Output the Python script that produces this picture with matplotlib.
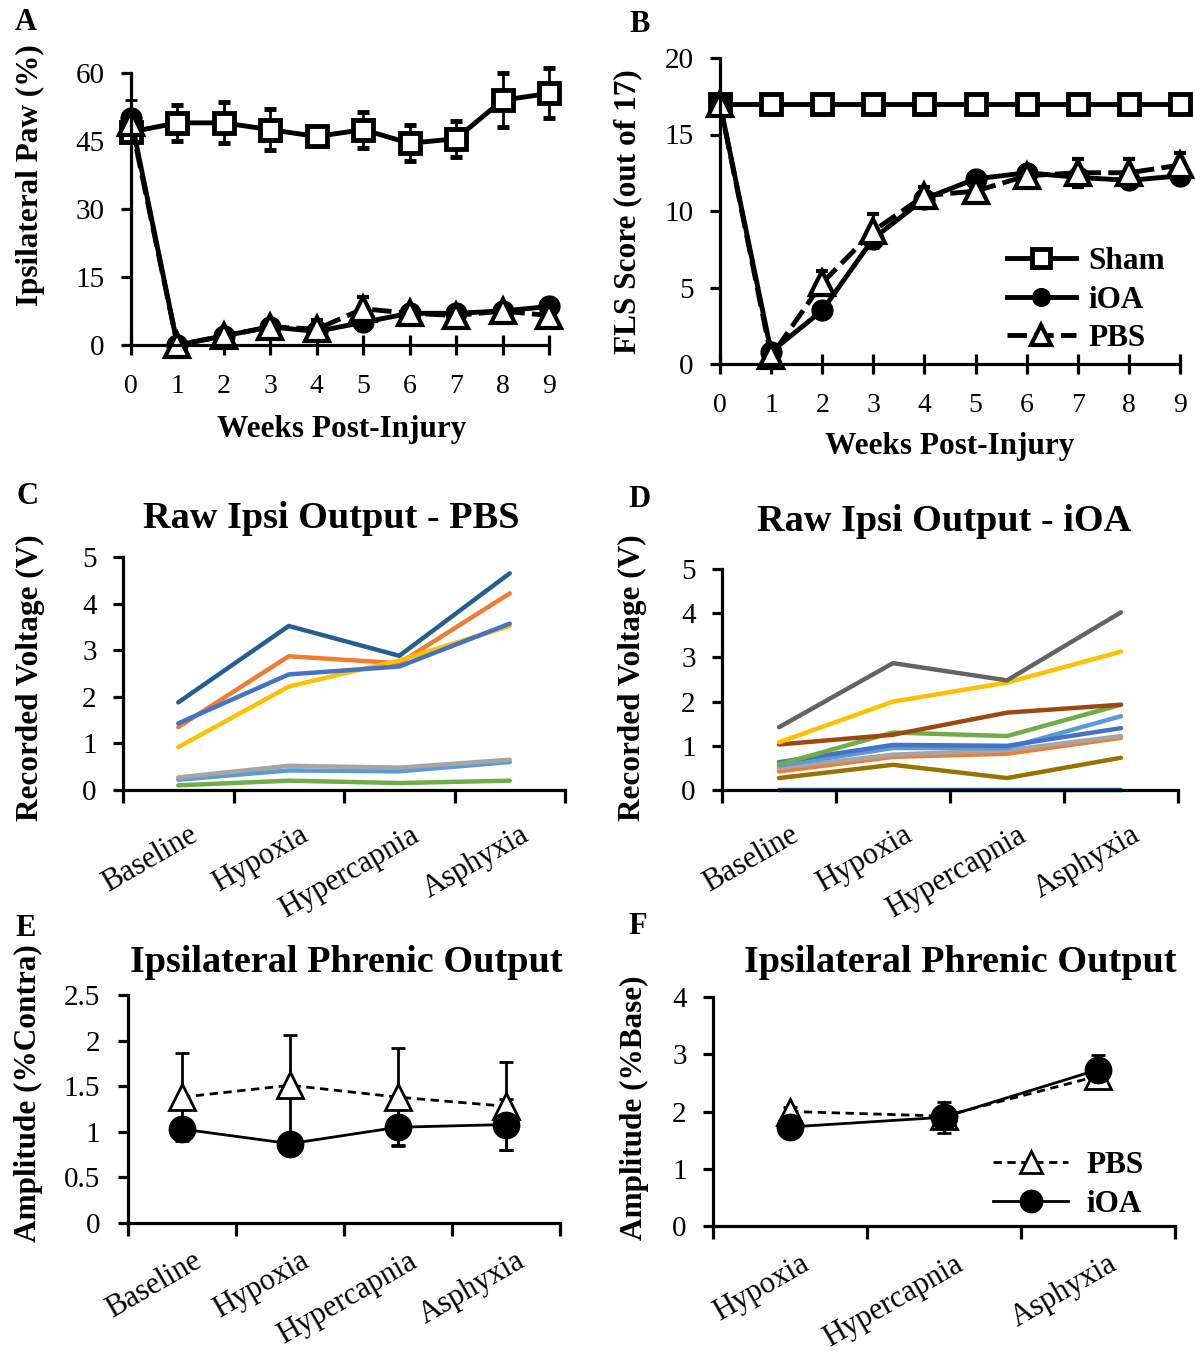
import numpy as np
import matplotlib
matplotlib.use("Agg")
import matplotlib.pyplot as plt
import matplotlib.transforms as mtransforms

plt.rcParams['font.family'] = ['Liberation Serif', 'DejaVu Serif']

# ---------- data ----------
weeks = np.arange(10)

# panel A: ipsilateral paw (%)
paw_sham = [47, 49, 49, 47.5, 46, 47.5, 44.5, 45.5, 54, 55.5]
paw_sham_err = [0, 4, 4.5, 4.5, 1, 4, 4, 4, 6, 5.5]
paw_ioa = [50, 0, 2, 4, 3, 5, 7, 7, 7.5, 8.5]
paw_ioa_err = [4, 0.5, 1, 1, 1, 1, 1, 1, 1, 1]
paw_pbs = [49, 0, 2, 4, 3.5, 8, 7, 6.5, 7.5, 6.5]
paw_pbs_err = [1, 0.5, 1, 1.5, 2, 2.5, 1, 1, 1, 1]

# panel B: FLS score
fls_sham = [17, 17, 17, 17, 17, 17, 17, 17, 17, 17]
fls_ioa = [17, 0.8, 3.5, 8.2, 10.8, 12.1, 12.5, 12.2, 12.0, 12.3]
fls_ioa_err = [0, 0.3, 0.5, 0.6, 0.5, 0.5, 0.5, 0.4, 0.5, 0.5]
fls_pbs = [17, 0.5, 5.3, 8.7, 11.0, 11.3, 12.3, 12.5, 12.5, 13.0]
fls_pbs_err = [0, 0.3, 0.8, 1.1, 0.6, 0.7, 0.4, 0.9, 0.9, 0.8]

conditions = ['Baseline', 'Hypoxia', 'Hypercapnia', 'Asphyxia']

# panel C: raw ipsi output, PBS animals
raw_pbs = [
    ('#255e91', [1.88, 3.52, 2.88, 4.65]),
    ('#ed7d31', [1.35, 2.87, 2.72, 4.22]),
    ('#ffc000', [0.92, 2.22, 2.78, 3.52]),
    ('#4472c4', [1.43, 2.48, 2.65, 3.57]),
    ('#70ad47', [0.10, 0.20, 0.15, 0.20]),
    ('#5b9bd5', [0.22, 0.42, 0.40, 0.60]),
    ('#a5a5a5', [0.27, 0.52, 0.48, 0.65]),
]

# panel D: raw ipsi output, iOA animals
raw_ioa = [
    ('#255e91', [0.0, 0.0, 0.0, 0.0]),
    ('#997300', [0.27, 0.57, 0.27, 0.73]),
    ('#ed7d31', [0.42, 0.75, 0.82, 1.18]),
    ('#a5a5a5', [0.50, 0.80, 0.90, 1.22]),
    ('#5b9bd5', [0.55, 0.95, 0.95, 1.67]),
    ('#4472c4', [0.63, 1.02, 1.00, 1.40]),
    ('#70ad47', [0.58, 1.30, 1.22, 1.93]),
    ('#9e480e', [1.03, 1.25, 1.75, 1.93]),
    ('#ffc000', [1.08, 2.00, 2.43, 3.13]),
    ('#636363', [1.42, 2.87, 2.48, 4.02]),
]

# panel E: amplitude (%Contra)
amp_pbs = [1.38, 1.51, 1.38, 1.28]
amp_pbs_err = [0.48, 0.55, 0.54, 0.48]
amp_ioa = [1.03, 0.87, 1.05, 1.08]
amp_ioa_err = [0.05, 0.05, 0.2, 0.28]

# panel F: amplitude (%Base)
stim = ['Hypoxia', 'Hypercapnia', 'Asphyxia']
base_pbs = [2.0, 1.92, 2.62]
base_pbs_err = [0.08, 0.1, 0.15]
base_ioa = [1.73, 1.90, 2.73]
base_ioa_err = [0.05, 0.27, 0.25]

# ---------- figure ----------
W, H = 1195, 1353
fig = plt.figure(figsize=(W / 100, H / 100), dpi=100)

TICK = 21
LAB = 22.5
TITLE = 27.5
CAT = 22


def px_axes(left, right, top, bottom):
    return fig.add_axes([left / W, 1 - bottom / H, (right - left) / W, (bottom - top) / H])


def style(ax, lw=2.3, ypad=12):
    for s in ['top', 'right']:
        ax.spines[s].set_visible(False)
    for s in ['left', 'bottom']:
        ax.spines[s].set_linewidth(lw)
        ax.spines[s].set_color('black')
    ax.tick_params(axis='y', direction='out', length=7, width=lw, labelsize=TICK, pad=ypad)


def category_axis(ax, labels, pad=22):
    n = len(labels)
    ax.set_xlim(-0.5, n - 0.5)
    ax.set_xticks(np.arange(n + 1) - 0.5)
    ax.set_xticklabels([])
    ax.tick_params(axis='x', which='major', direction='out', length=9, width=2.3)
    ax.set_xticks(np.arange(n), minor=True)
    ax.set_xticklabels(labels, minor=True, rotation=30, ha='right', va='top',
                       rotation_mode='anchor', fontsize=CAT)
    ax.tick_params(axis='x', which='minor', length=0, pad=pad)
    shift = mtransforms.ScaledTranslation(0.10, 0, fig.dpi_scale_trans)
    for t in ax.get_xticklabels(minor=True):
        t.set_transform(t.get_transform() + shift)


def ylabel(text, xpx, ypx):
    fig.text(xpx / W, 1 - ypx / H, text, rotation=90, ha='center', va='center',
             fontsize=LAB, fontweight='bold')


def title(text, xpx, ypx):
    fig.text(xpx / W, 1 - ypx / H, text, ha='center', va='center',
             fontsize=TITLE, fontweight='bold')


big = dict(lw=3.5, capsize=4.5, elinewidth=2, capthick=2, clip_on=False, color='black')

# ---- A ----
axA = px_axes(131, 549, 73, 345)
style(axA)
axA.errorbar(weeks, paw_sham, yerr=paw_sham_err, marker='s', ms=15, mfc='white',
             mec='black', mew=3.5, **big)
axA.errorbar(weeks, paw_ioa, yerr=paw_ioa_err, marker='o', ms=15, mfc='black', mec='black', **big)
axA.errorbar(weeks, paw_pbs, yerr=paw_pbs_err, marker='^', ms=17, mfc='white', mec='black',
             mew=3, ls=(0, (4, 1.5)), **big)
axA.set_xlim(0, 9)
axA.set_ylim(0, 60)
axA.set_yticks([0, 15, 30, 45, 60])
axA.set_xticks(weeks)
axA.tick_params(axis='x', direction='inout', length=14, width=2.3, labelsize=20, pad=14)
fig.text(342 / W, 1 - 429 / H, 'Weeks Post-Injury', ha='center', va='center',
         fontsize=LAB, fontweight='bold')
ylabel('Ipsilateral Paw (%)', 30, 175)

# ---- B ----
axB = px_axes(720, 1180, 58, 364)
style(axB)
hs = axB.errorbar(weeks, fls_sham, marker='s', ms=15, mfc='white', mec='black', mew=3.5, **big)
hi = axB.errorbar(weeks, fls_ioa, yerr=fls_ioa_err, marker='o', ms=15, mfc='black', mec='black',
                  **big)
hp = axB.errorbar(weeks, fls_pbs, yerr=fls_pbs_err, marker='^', ms=17, mfc='white', mec='black',
                  mew=3, ls=(0, (4, 1.5)), **big)
axB.set_xlim(0, 9)
axB.set_ylim(0, 20)
axB.set_yticks([0, 5, 10, 15, 20])
axB.set_xticks(weeks)
axB.tick_params(axis='x', direction='inout', length=14, width=2.3, labelsize=20, pad=14)
fig.text(950 / W, 1 - 447 / H, 'Weeks Post-Injury', ha='center', va='center',
         fontsize=LAB, fontweight='bold')
ylabel('FLS Score (out of 17)', 628, 212)
fig.legend([hs.lines[0], hi.lines[0], hp.lines[0]], ['Sham', 'iOA', 'PBS'], loc='center left',
           bbox_to_anchor=(1007 / W, 1 - 300 / H), frameon=False, numpoints=1,
           handlelength=2.2, handletextpad=0.4, labelspacing=0.3, borderpad=0,
           borderaxespad=0, markerscale=0.85, prop=dict(size=LAB, weight='bold'))

# ---- C ----
axC = px_axes(123, 565, 557, 790)
style(axC)
for col, vals in raw_pbs:
    axC.plot(np.arange(4), vals, color=col, lw=3.2, solid_capstyle='round')
axC.set_ylim(0, 5)
axC.set_yticks(range(6))
category_axis(axC, conditions)
title('Raw Ipsi Output - PBS', 331, 518)
ylabel('Recorded Voltage (V)', 30, 678)

# ---- D ----
axD = px_axes(722, 1178, 569, 790)
style(axD)
for col, vals in raw_ioa:
    axD.plot(np.arange(4), vals, color=col, lw=3.2, solid_capstyle='round', clip_on=False)
axD.set_ylim(0, 5)
axD.set_yticks(range(6))
category_axis(axD, conditions)
title('Raw Ipsi Output - iOA', 944, 522)
ylabel('Recorded Voltage (V)', 632, 678)

small = dict(lw=2, capsize=5, elinewidth=2, capthick=2, clip_on=False, color='black')

# ---- E ----
axE = px_axes(128, 560, 995, 1223)
style(axE, ypad=13)
x4 = np.arange(4)
axE.errorbar(x4, amp_pbs, yerr=amp_pbs_err, marker='^', ms=19, mfc='white', mec='black',
             mew=2, ls=(0, (3, 2)), **small)
axE.errorbar(x4, amp_ioa, yerr=amp_ioa_err, marker='o', ms=19, mfc='black', mec='black', **small)
axE.set_ylim(0, 2.5)
axE.set_yticks([0, 0.5, 1, 1.5, 2, 2.5])
axE.set_yticklabels(['0', '0.5', '1', '1.5', '2', '2.5'])
category_axis(axE, conditions, pad=17)
title('Ipsilateral Phrenic Output', 346, 963)
ylabel('Amplitude (%Contra)', 28, 1093)

# ---- F ----
axF = px_axes(713, 1175, 997, 1226)
style(axF, ypad=12)
x3 = np.arange(3)
fp = axF.errorbar(x3, base_pbs, yerr=base_pbs_err, marker='^', ms=19, mfc='white', mec='black',
                  mew=2, ls=(0, (3, 2)), **small)
fi = axF.errorbar(x3, base_ioa, yerr=base_ioa_err, marker='o', ms=19, mfc='black', mec='black',
                  **small)
axF.set_ylim(0, 4)
axF.set_yticks(range(5))
category_axis(axF, stim, pad=17)
title('Ipsilateral Phrenic Output', 960, 963)
ylabel('Amplitude (%Base)', 634, 1108)
fig.legend([fp.lines[0], fi.lines[0]], ['PBS', 'iOA'], loc='center left',
           bbox_to_anchor=(993 / W, 1 - 1185 / H), frameon=False, numpoints=1,
           handlelength=2.4, handletextpad=0.6, labelspacing=0.3, borderpad=0,
           borderaxespad=0, markerscale=0.85, prop=dict(size=LAB, weight='bold'))

# panel letters
for letter, (x, y) in zip('ABCDEF', [(26, 23), (640, 25), (27, 497), (639, 499), (26, 928), (638, 927)]):
    fig.text(x / W, 1 - y / H, letter, fontsize=22, fontweight='bold', ha='center', va='center')

fig.savefig('out.png', dpi=100)
